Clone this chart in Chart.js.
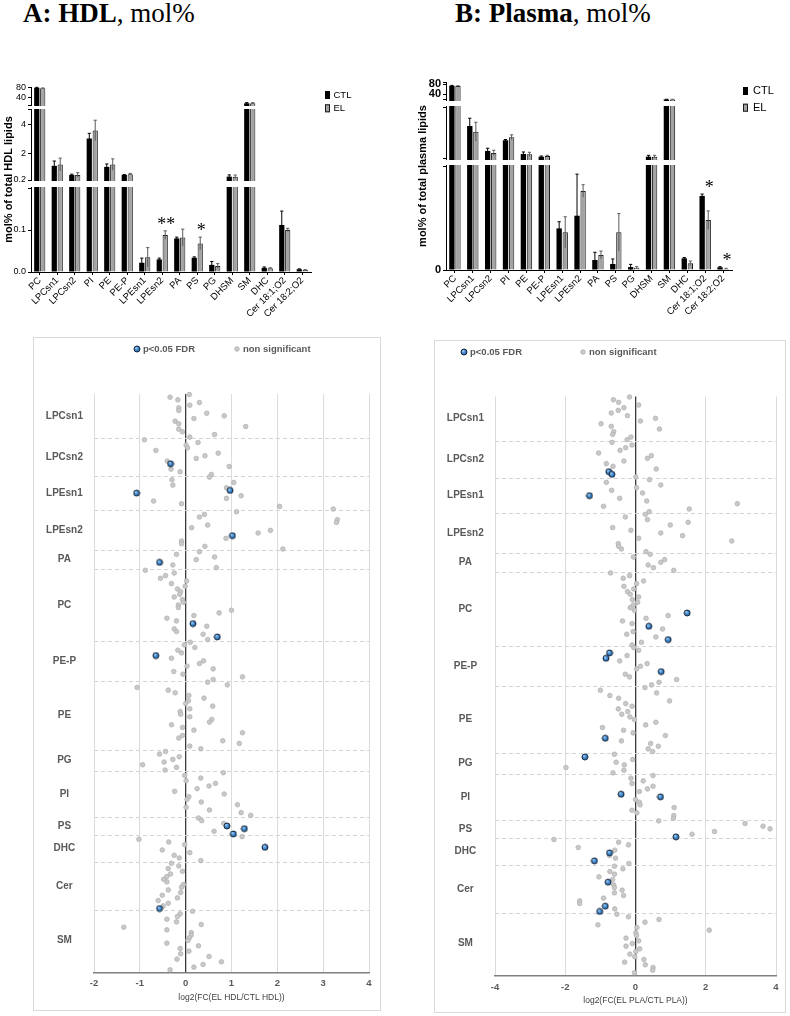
<!DOCTYPE html>
<html>
<head>
<meta charset="utf-8">
<script src="https://cdn.jsdelivr.net/npm/chart.js@4.4.1/dist/chart.umd.min.js"></script>
<style>
  body { margin: 0; width: 790px; height: 1016px; background: #fff; position: relative; overflow: hidden; }
  .title { position: absolute; top: 0; font-family: 'Liberation Serif', 'Times New Roman', serif; font-size: 27px; line-height: 26px; white-space: nowrap; color: #000; }
  .box { position: absolute; border: 1px solid #d9d9d9; box-sizing: border-box; }
  canvas { position: absolute; }
</style>
</head>
<body>
<div class="title" style="left:23px"><b>A: HDL</b>, mol%</div>
<div class="title" style="left:455px"><b>B: Plasma</b>, mol%</div>
<canvas id="barA" width="395" height="262" style="left:0;top:70px"></canvas>
<canvas id="barB" width="395" height="262" style="left:395px;top:70px"></canvas>
<div class="box" style="left:33px;top:337px;width:348px;height:674px"></div>
<canvas id="dotA" width="346" height="672" style="left:34px;top:338px"></canvas>
<div class="box" style="left:434px;top:340px;width:352px;height:673px"></div>
<canvas id="dotB" width="350" height="671" style="left:435px;top:341px"></canvas>
<script>
// ---- bar charts (mol%) ----
const categories = ['PC', 'LPCsn1', 'LPCsn2', 'PI', 'PE', 'PE-P', 'LPEsn1', 'LPEsn2', 'PA', 'PS', 'PG', 'DHSM', 'SM', 'DHC', 'Cer 18:1;O2', 'Cer 18:2;O2'];

const hdlCtl   = [81, 1.17, 0.55, 3.05, 1.1, 0.55, 0.022, 0.030, 0.080, 0.034, 0.017, 0.43, 15, 0.010, 0.112, 0.0065];
const hdlCtlSd = [1.5, 0.33, 0.05, 0.35, 0.2, 0.03, 0.011, 0.003, 0.003, 0.002, 0.008, 0.12, 3, 0.002, 0.033, 0.001];
const hdlEl    = [79, 1.26, 0.55, 3.6, 1.26, 0.6, 0.035, 0.088, 0.082, 0.068, 0.014, 0.42, 15, 0.009, 0.100, 0.005];
const hdlElSd  = [1, 0.44, 0.15, 0.7, 0.39, 0.05, 0.023, 0.010, 0.020, 0.015, 0.006, 0.12, 3, 0.001, 0.004, 0.0008];
const hdlStars = ['', '', '', '', '', '', '', '**', '', '*', '', '', '', '', '', ''];
const hdlTickValues = [0, 0.1, 0.2, 2, 4, 40, 80];
const hdlTickLabels = ['0.0', '0.1', '0.2', '2', '4', '40', '80'];

const plaCtl   = [75, 10.35, 2.9, 6.1, 2.0, 1.2, 0.200, 0.261, 0.048, 0.029, 0.014, 1.2, 18, 0.056, 0.356, 0.013];
const plaCtlSd = [1, 2.3, 0.8, 0.2, 0.6, 0.2, 0.032, 0.2, 0.037, 0.024, 0.013, 0.4, 1, 0.004, 0.009, 0.003];
const plaEl    = [73.5, 8.65, 2.3, 7.0, 1.9, 1.4, 0.181, 0.38, 0.072, 0.181, 0.011, 1.2, 18, 0.032, 0.24, 0.006];
const plaElSd  = [1, 2.8, 0.8, 0.7, 0.6, 0.2, 0.075, 0.03, 0.019, 0.09, 0.005, 0.4, 1, 0.011, 0.044, 0.002];
const plaStars = ['', '', '', '', '', '', '', '', '', '', '', '', '', '', '*', '*'];
const plaTickValues = [0, 40, 80];
const plaTickLabels = ['0', '40', '80'];

// ---- dot plots: log2 fold change per species, grouped by class ----
const lipidClasses = ['LPCsn1', 'LPCsn2', 'LPEsn1', 'LPEsn2', 'PA', 'PC', 'PE-P', 'PE', 'PG', 'PI', 'PS', 'DHC', 'Cer', 'SM'];

const hdlFC = [
  [0.08, -0.34, -0.17, 0.30, 0.09, -0.15, -0.15, 0.46, 0.84, 0.18, -0.23, -0.15, 1.31, -0.15, -0.07, 0.63, 0.09],
  [-0.90, 0.27, 0.01, 0.04, -0.65, 0.71, 0.42, 0.23, -0.40, -0.33, 0.95, -0.32, -0.12, 0.56],
  [0.52, -0.30, 1.05, -0.28, 0.89, 0.97, -1.07, 1.21, 0.89, -0.70, -0.09, 2.05, 3.22],
  [1.11, 0.41, 0.30, 3.31, 3.29, 0.48, 0.13, 1.85, 1.58, 1.02, 0.88, -0.09, -0.09, 0.42, 2.12],
  [0.30, -0.20, 0.63, 0.23, -0.57, -0.28, 0.67],
  [-0.88, -0.25, -0.44, -0.55, 0.02, -0.31, -0.01, -0.18, -0.11, -0.13, -0.25, -0.07, -0.05, -0.16, -0.16, 1.00, 0.73, 0.18, -0.41, -0.20, 0.16, 0.46, -0.25, -0.20, 0.38, 0.69, 0.48],
  [0.10, -0.03, 0.20, -0.17, -0.09, -0.65, -0.31, 0.39, 0.30, 0.03, 0.60, -0.26, -0.06, 1.24, 0.60],
  [0.48, 0.91, -1.06, -0.38, -0.23, 0.07, 0.40, 0.06, 0.00, 0.59, 0.09, -0.12, -0.11, 0.09, 0.57, 0.52, -0.31, -0.07, 0.18, 1.24, -0.07, -0.15, 0.81, 1.17, 0.09, 0.33],
  [-0.44, -0.57, -0.14, -0.28, -0.47, -0.94, -0.20, -0.45],
  [0.82, -0.02, 0.33, 0.01, 0.65, 0.51, 0.25, -0.24, 0.84, 0.07, 0.03, 0.34, 1.13, 0.01, 0.52, 1.21, 1.42],
  [0.28, 0.35, 0.83, 0.90, 1.28, 0.62, 1.04],
  [1.23, -1.02, -0.37, -0.02, 1.73, -0.51, 0.09, -0.25, -0.14, 0.33],
  [-0.31, -0.15, -0.38, -0.07, -0.33, -0.41, -0.48, -0.41, -0.05, -0.09, -0.38, -0.11, -0.51, -0.18, -0.60, -0.38, -0.49, -0.57],
  [0.15, -0.12, -0.18, -0.41, -0.20, 0.34, -1.35, -0.41, 0.12, 0.12, 0.08, 0.05, -0.41, 0.28, -0.12, 0.07, -0.11, 0.51, -0.19, 0.78, 0.38, 0.18, -0.34]
];
// index of significant species (p<0.05 FDR) inside each class
const hdlSig = [[], [9], [5, 6], [9], [4], [20, 25], [5], [], [], [], [3, 4, 6], [4], [17], []];

const plaFC = [
  [-0.17, -0.63, -0.48, 0.09, -0.33, -0.49, -0.69, -0.23, 0.57, 0.14, -0.98, -0.69, 0.68, -0.62, -0.65, -0.13, -0.24],
  [-0.67, -0.10, -0.28, -0.44, -1.05, 0.45, 0.34, -0.33, -0.83, -0.64, 0.59, -0.76, -0.67, 0.01],
  [0.40, -0.83, 0.72, 0.03, -0.68, 0.20, -1.31, -0.45, 0.32, 2.90, -0.91, 1.53, 0.39],
  [0.28, -0.29, 0.34, 1.50, 0.99, -0.65, -0.13, 0.72, 1.34, 0.09, 2.74, -0.49, -0.48, -0.40, 0.30],
  [0.42, -0.06, 0.83, 0.72, 0.36, 0.51, 1.09],
  [-0.71, -0.17, -0.35, 0.23, 0.03, -0.33, -0.05, -0.23, -0.15, 0.09, -0.09, 0.06, -0.06, -0.15, -0.03, 1.47, 0.93, 0.30, -0.37, -0.10, 0.38, 0.77, -0.07, -0.25, 0.58, 0.93, 0.17, -0.10],
  [-0.05, 0.09, -0.74, -0.24, -0.84, -0.45, 0.33, 0.14, 0.03, 0.73, -0.29, -0.17, 1.17, 0.67, 0.46],
  [0.27, -1.00, 0.60, -0.73, -0.48, 0.97, -0.28, -0.10, -0.49, -0.22, -0.39, -0.16, -0.03, 0.58, 0.29, -0.94, -0.34, -0.07, 0.85, -0.86, -0.40, 0.43, 0.65, 0.36, 0.49],
  [-0.60, -1.44, -0.08, -0.55, -0.32, -1.98, -0.33, -0.64],
  [0.50, -0.13, 0.22, -0.10, 0.50, 0.34, 0.11, -0.41, 0.71, 0.00, 0.11, 0.13, 1.10, -0.10, 0.04, 1.09, 1.08],
  [0.66, 3.12, 3.63, 3.83, 2.25, 1.61, 1.15],
  [-2.32, -0.48, -0.20, -1.63, -0.59, -0.74, -0.74, -0.57, -1.17, -0.19],
  [-0.60, -0.36, -0.73, -0.60, -1.04, -0.65, -0.78, -0.62, -0.60, -0.38, -0.60, -0.34, -0.91, -1.59, -1.59, -0.86, -0.59, -1.02],
  [-0.53, -0.20, 0.67, 0.27, -1.07, 0.04, 2.10, 0.01, 0.03, -0.27, 0.09, -0.09, -0.27, 0.12, 0.01, -0.16, -0.02, 0.24, -0.31, 0.28, 0.50, 0.49, -0.03]
];
const plaSig = [[], [11, 12], [6], [], [], [15, 20, 25], [2, 4, 9], [19], [1], [7, 8], [6], [5, 8], [6, 15, 17], []];

Chart.defaults.font.family = "'Liberation Sans', Arial, sans-serif";
Chart.defaults.animation = false;

// piecewise axis: every segment gets its own height on a plain linear scale
function brokenAxis(segs, sizes, gaps) {
  const starts = [];
  let pos = 0;
  segs.forEach((s, i) => { starts.push(pos); pos += sizes[i] + (gaps[i] || 0); });
  const total = starts[segs.length - 1] + sizes[segs.length - 1];
  const toAxis = v => {
    let i = segs.length - 1;
    while (i > 0 && v < segs[i][0]) i--;
    const s = segs[i];
    const t = Math.max(s[0], Math.min(v, s[1]));
    return starts[i] + (t - s[0]) / (s[1] - s[0]) * sizes[i];
  };
  return { segs, sizes, starts, total, toAxis };
}

function axisTicks(ax, values, labels) {
  const list = values.map((v, i) => ({ value: ax.toAxis(v), text: labels[i] }));
  ax.segs.forEach((s, i) => {
    [ax.starts[i], ax.starts[i] + ax.sizes[i]].forEach(p => {
      if (!list.some(t => Math.abs(t.value - p) < 0.5)) list.push({ value: p, text: '' });
    });
  });
  return list.sort((a, b) => a.value - b.value);
}

function barExtras(ax, o) {
  return {
    id: 'barExtras',
    afterDatasetsDraw(chart) {
      const { ctx, chartArea: area, scales: { y } } = chart;
      const px = v => y.getPixelForValue(ax.toAxis(v));
      ctx.save();
      ctx.lineWidth = 1;
      [[o.ctl, o.ctlSd, '#000'], [o.el, o.elSd, '#5a5a5a']].forEach(([vals, sds, col], d) => {
        chart.getDatasetMeta(d).data.forEach((bar, i) => {
          const top = px(vals[i] + sds[i]), bot = px(vals[i] - sds[i]);
          ctx.strokeStyle = col;
          ctx.beginPath();
          ctx.moveTo(bar.x, bot); ctx.lineTo(bar.x, top);
          ctx.moveTo(bar.x - 1.6, top); ctx.lineTo(bar.x + 1.6, top);
          ctx.stroke();
        });
      });
      ctx.fillStyle = '#000';
      ctx.font = '18px "Liberation Serif"';
      ctx.textAlign = 'center';
      const elMeta = chart.getDatasetMeta(1);
      o.stars.forEach((s, i) => {
        if (!s) return;
        const top = Math.min(px(o.ctl[i] + o.ctlSd[i]), px(o.el[i] + o.elSd[i]));
        ctx.fillText(s, elMeta.data[i].x + 1, top - 1);
      });
      // white breaks
      ctx.fillStyle = '#fff';
      for (let i = 0; i < ax.segs.length - 1; i++) {
        const yTop = y.getPixelForValue(ax.starts[i + 1]);
        const yBot = y.getPixelForValue(ax.starts[i] + ax.sizes[i]);
        ctx.fillRect(area.left - 6, yTop + 1, area.right - area.left + 8, yBot - yTop - 2);
      }
      ctx.restore();
    },
    afterDraw(chart) {
      const { ctx } = chart;
      const L = o.legend;
      ctx.save();
      ctx.font = L.font;
      ctx.textBaseline = 'middle';
      ctx.textAlign = 'left';
      chart.data.datasets.forEach((ds, k) => {
        const cy = L.y + k * L.dy;
        ctx.fillStyle = ds.backgroundColor;
        ctx.fillRect(L.x, cy - 4, 5, 8);
        if (k === 1) { ctx.strokeStyle = '#1a1a1a'; ctx.lineWidth = 1; ctx.strokeRect(L.x + 0.5, cy - 3.5, 4, 7); }
        ctx.fillStyle = '#000';
        ctx.fillText(ds.label, L.x + L.gap, cy);
      });
      ctx.restore();
    }
  };
}

function barChart(id, o) {
  const ax = brokenAxis(o.segs, o.sizes, o.gaps);
  const ticks = axisTicks(ax, o.tickValues, o.tickLabels);
  new Chart(document.getElementById(id), {
    type: 'bar',
    data: {
      labels: categories,
      datasets: [
        { label: 'CTL', data: o.ctl.map(v => ax.toAxis(v)), backgroundColor: '#000', borderWidth: 0 },
        { label: 'EL', data: o.el.map(v => ax.toAxis(v)), backgroundColor: '#a3a3a3', borderColor: '#1a1a1a', borderWidth: 1 }
      ]
    },
    options: {
      responsive: false,
      animation: false,
      datasets: { bar: { categoryPercentage: 0.68, barPercentage: 0.88 } },
      layout: { padding: o.padding },
      plugins: { legend: { display: false }, tooltip: { enabled: false } },
      scales: {
        x: {
          grid: { display: true, drawOnChartArea: false, drawTicks: true, tickLength: 3, color: '#000', offset: false },
          border: { color: '#000', width: 1 },
          ticks: { maxRotation: 45, minRotation: 45, autoSkip: false, padding: 0, color: '#000', font: { size: 9.5 } },
          afterFit: s => { s.height = o.xHeight; }
        },
        y: {
          min: 0,
          max: ax.total,
          afterBuildTicks: s => { s.ticks = ticks.map(t => ({ value: t.value })); },
          ticks: { autoSkip: false, padding: 2, color: '#000', font: o.tickFont, callback: (v, i) => ticks[i] ? ticks[i].text : '' },
          grid: { display: true, drawOnChartArea: false, drawTicks: true, tickLength: 3, color: '#000' },
          border: { display: true, color: '#000', width: 1 },
          title: { display: true, text: o.yTitle, color: '#000', font: { size: 11, weight: 'bold' }, padding: { top: o.titlePad, bottom: 0 } },
          afterFit: s => { s.width = o.yWidth; }
        }
      }
    },
    plugins: [barExtras(ax, o)]
  });
}

barChart('barA', {
  ctl: hdlCtl, ctlSd: hdlCtlSd, el: hdlEl, elSd: hdlElSd, stars: hdlStars,
  tickValues: hdlTickValues, tickLabels: hdlTickLabels,
  segs: [[0, 0.2], [0.2, 5], [8, 84]], sizes: [84, 70, 18], gaps: [8, 5],
  padding: { left: 0, right: 84, top: 17, bottom: 0 }, yWidth: 31, xHeight: 60, titlePad: 2,
  tickFont: { size: 9 }, yTitle: 'mol% of total HDL lipids',
  legend: { x: 325, y: 25, dy: 13.3, gap: 8.5, font: '9.5px "Liberation Sans"' }
});

barChart('barB', {
  ctl: plaCtl, ctlSd: plaCtlSd, el: plaEl, elSd: plaElSd, stars: plaStars,
  tickValues: plaTickValues, tickLabels: plaTickLabels,
  segs: [[0, 0.5], [0.5, 16], [16, 90]], sizes: [104, 52, 18], gaps: [7, 7],
  padding: { left: 15, right: 58, top: 12, bottom: 0 }, yWidth: 36, xHeight: 62, titlePad: 6,
  tickFont: { size: 11, weight: 'bold' }, yTitle: 'mol% of total plasma lipids',
  legend: { x: 348, y: 21, dy: 16.7, gap: 10, font: '11px "Liberation Sans"' }
});

// ---- dot plots ----
// shaded blue marker for the significant species
function glossyDot(r) {
  const c = document.createElement('canvas');
  const s = Math.ceil(r * 2 + 2);
  c.width = c.height = s;
  const g = c.getContext('2d');
  const grad = g.createRadialGradient(s / 2 - r * 0.35, s / 2 - r * 0.4, 0.3, s / 2, s / 2, r);
  grad.addColorStop(0, '#a8d4f8');
  grad.addColorStop(0.45, '#4a92d6');
  grad.addColorStop(1, '#1f5d9e');
  g.beginPath();
  g.arc(s / 2, s / 2, r, 0, Math.PI * 2);
  g.fillStyle = grad;
  g.fill();
  g.lineWidth = 1;
  g.strokeStyle = '#17263a';
  g.stroke();
  return c;
}
const sigMarker = glossyDot(3);

function dotChart(id, fcs, sigs, o) {
  const sig = [], ns = [], centers = [], bounds = [];
  let row = 0;
  fcs.forEach((vals, c) => {
    const first = row;
    vals.forEach((v, k) => {
      (sigs[c].includes(k) ? sig : ns).push({ x: v, y: row });
      row++;
    });
    centers.push((first + row - 1) / 2);
    if (c < fcs.length - 1) bounds.push(row - 0.5);
  });
  const labelColor = '#595959';
  new Chart(document.getElementById(id), {
    type: 'scatter',
    data: {
      datasets: [
        { label: 'p<0.05 FDR', data: sig, pointStyle: sigMarker, backgroundColor: '#3d85cc', borderColor: '#1b2c42', borderWidth: 1, pointRadius: 3, clip: false },
        { label: 'non significant', data: ns, backgroundColor: '#c9c9c9', borderColor: '#b3b3b3', borderWidth: 0.8, pointRadius: 2.3, clip: false }
      ]
    },
    options: {
      responsive: false,
      animation: false,
      layout: { padding: o.padding },
      plugins: { legend: { display: false }, tooltip: { enabled: false } },
      scales: {
        x: {
          type: 'linear', min: o.xmin, max: o.xmax,
          ticks: { stepSize: o.step, color: labelColor, padding: o.tickPad, font: { size: 9.5, weight: 'bold' } },
          grid: {
            drawTicks: false,
            color: c => c.tick && c.tick.value === 0 ? '#3a3a3a' : '#dcdcdc',
            lineWidth: c => c.tick && c.tick.value === 0 ? 1.3 : 1
          },
          border: { color: '#808080', width: 1.5 },
          title: { display: true, text: o.xTitle, color: '#404040', font: { size: 8.5 }, padding: { top: 0, bottom: o.titlePad } },
          afterFit: s => { s.height = o.xHeight; }
        },
        y: {
          type: 'linear', reverse: true, min: -0.2, max: row + 0.2,
          afterBuildTicks: s => { s.ticks = centers.map(v => ({ value: v })); },
          ticks: { autoSkip: false, crossAlign: 'center', padding: 11, color: labelColor, font: { size: 10, weight: 'bold' }, callback: (v, i) => lipidClasses[i] },
          grid: { display: false, drawTicks: false },
          border: { display: false },
          afterFit: s => { s.width = 60; }
        }
      }
    },
    plugins: [{
      id: 'classLines',
      beforeDatasetsDraw(chart) {
        const { ctx, chartArea: a, scales: { y } } = chart;
        ctx.save();
        ctx.strokeStyle = '#d4d4d4';
        ctx.lineWidth = 1;
        ctx.setLineDash([4, 3]);
        bounds.forEach(b => {
          const py = Math.round(y.getPixelForValue(b)) + 0.5;
          ctx.beginPath(); ctx.moveTo(a.left, py); ctx.lineTo(a.right, py); ctx.stroke();
        });
        ctx.restore();
      },
      afterDraw(chart) {
        const { ctx } = chart;
        const L = o.legend;
        ctx.save();
        ctx.font = 'bold 9.5px "Liberation Sans"';
        ctx.textBaseline = 'middle';
        chart.data.datasets.forEach((ds, k) => {
          if (k === 0) {
            ctx.drawImage(sigMarker, L.dots[k] - sigMarker.width / 2, L.y - sigMarker.height / 2);
          } else {
            ctx.beginPath();
            ctx.arc(L.dots[k], L.y, ds.pointRadius, 0, Math.PI * 2);
            ctx.fillStyle = ds.backgroundColor; ctx.fill();
            ctx.strokeStyle = ds.borderColor; ctx.lineWidth = ds.borderWidth; ctx.stroke();
          }
          ctx.fillStyle = labelColor;
          ctx.fillText(ds.label, L.dots[k] + 6, L.y);
        });
        ctx.restore();
      }
    }]
  });
}

dotChart('dotA', hdlFC, hdlSig, {
  xmin: -2, xmax: 4, step: 1, xTitle: 'log2(FC(EL HDL/CTL HDL))',
  padding: { left: 0, right: 11, top: 56, bottom: 0 }, xHeight: 37, tickPad: 5, titlePad: 7,
  legend: { y: 11, dots: [103, 203] }
});

dotChart('dotB', plaFC, plaSig, {
  xmin: -4, xmax: 4, step: 2, xTitle: 'log2(FC(EL PLA/CTL PLA))',
  padding: { left: 0, right: 9, top: 55.5, bottom: 0 }, xHeight: 36, tickPad: 6, titlePad: 6,
  legend: { y: 11, dots: [29, 148] }
});
</script>
</body>
</html>
